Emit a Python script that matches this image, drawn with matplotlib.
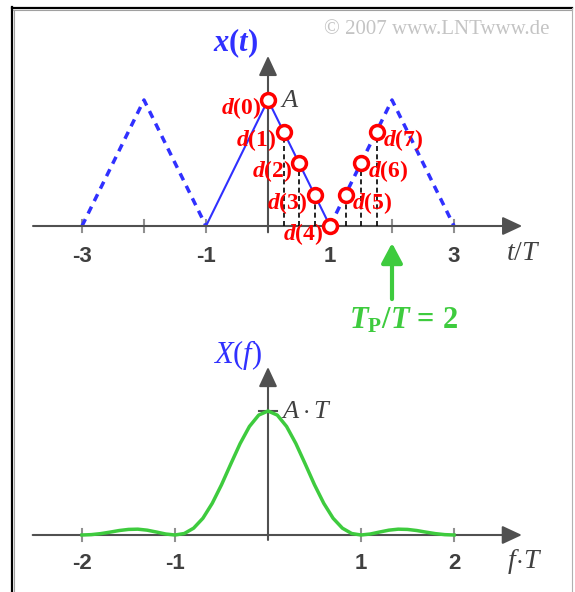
import matplotlib.pyplot as plt
from matplotlib.lines import Line2D

plt.rcParams.update({
    'mathtext.fontset': 'custom',
    'mathtext.rm': 'Liberation Serif',
    'mathtext.it': 'Liberation Serif:italic',
    'mathtext.bf': 'Liberation Serif:bold',
    'mathtext.bfit': 'Liberation Serif:bold:italic',
})

# upper graph: periodic triangle x(t) and its samples d(k)
t_vertices = [-3, -2, -1, 0, 1, 2, 3]
x_vertices = [0, 1, 0, 1, 0, 1, 0]
t_samples = [0, 0.25, 0.5, 0.75, 1.0, 1.25, 1.5, 1.75]
d_values = [1.0, 0.75, 0.5, 0.25, 0.0, 0.25, 0.5, 0.75]
t_ticks = [-3, -2, -1, 1, 2, 3]
t_ticklabels = ['-3', '', '-1', '1', '', '3']
period = 2

# lower graph: spectrum X(f)
f_points = [-2.0, -1.9, -1.8, -1.7, -1.6, -1.5, -1.4, -1.3, -1.2, -1.1,
            -1.0, -0.9, -0.8, -0.7, -0.6, -0.5, -0.4, -0.3, -0.2, -0.1,
            0.0, 0.1, 0.2, 0.3, 0.4, 0.5, 0.6, 0.7, 0.8, 0.9,
            1.0, 1.1, 1.2, 1.3, 1.4, 1.5, 1.6, 1.7, 1.8, 1.9, 2.0]
X_values = [0.0, 0.003, 0.011, 0.023, 0.036, 0.045, 0.047, 0.039, 0.024, 0.008,
            0.0, 0.012, 0.055, 0.135, 0.255, 0.405, 0.573, 0.737, 0.875, 0.967,
            1.0, 0.967, 0.875, 0.737, 0.573, 0.405, 0.255, 0.135, 0.055, 0.012,
            0.0, 0.008, 0.024, 0.039, 0.047, 0.045, 0.036, 0.023, 0.011, 0.003, 0.0]
f_ticks = [-2, -1, 1, 2]
f_ticklabels = ['-2', '-1', '1', '2']

AXIS = '#505050'
LABEL = '#404040'
BLUE = '#3030ff'
RED = '#ff0000'
GREEN = '#3ecb3e'

W, H = 575, 592
fig = plt.figure(figsize=(W / 100, H / 100), dpi=100)
fig.patch.set_facecolor('white')

# axes placed so that the data units match the original pixel layout
ax1 = fig.add_axes([0, (H - 330) / H, 1, 330 / H])
ax1.set_xlim(-268 / 62, (W - 268) / 62)
ax1.set_ylim((226 - 330) / 126, 226 / 126)
ax2 = fig.add_axes([0, 0, 1, (H - 330) / H])
ax2.set_xlim(-268 / 93, (W - 268) / 93)
ax2.set_ylim((535 - H) / 124, (535 - 330) / 124)
for ax in (ax1, ax2):
    ax.set_axis_off()
    ax.patch.set_alpha(0)

arrow = dict(arrowstyle='-|>,head_length=0.6,head_width=0.28', color=AXIS,
             lw=1.5, mutation_scale=20, shrinkA=0, shrinkB=0)

# ---- upper graph ----
ax1.annotate('', xy=(4.1, 0), xytext=(-3.79, 0), arrowprops=arrow)
ax1.annotate('', xy=(0, 1.35), xytext=(0, -0.05), arrowprops=arrow)
for t in t_ticks:
    ax1.plot([t, t], [-0.05, 0.05], color='#909090', lw=1.5, zorder=2)
for t, lab in zip(t_ticks, t_ticklabels):
    ax1.text(t, -0.24, lab, ha='center', va='center', fontsize=16,
             fontweight='bold', family='Liberation Sans', color=LABEL)

ax1.plot(t_vertices[:3], x_vertices[:3], color=BLUE, lw=2.5, dashes=(2.2, 1.8))
ax1.plot(t_vertices[4:], x_vertices[4:], color=BLUE, lw=2.5, dashes=(2.2, 1.8))
ax1.plot(t_vertices[2:5], x_vertices[2:5], color=BLUE, lw=1.5)

for t, d in zip(t_samples[1:], d_values[1:]):
    ax1.plot([t, t], [0, d], color='black', lw=1.2, dashes=(3, 2), zorder=3)
ax1.plot(t_samples, d_values, 'o', ms=10, mfc='white', mec=RED, mew=2.5,
         zorder=5)
for k, (t, d) in enumerate(zip(t_samples, d_values)):
    left = k <= 4
    ax1.annotate(r'$\mathbfit{d}\mathbf{(%d)}$' % k, (t, d),
                 xytext=(-5 if left else 5, -6), textcoords='offset points',
                 ha='right' if left else 'left', va='center', fontsize=17,
                 color=RED, zorder=6)

ax1.text(0.2, 1.0, r'$A$', ha='left', va='center', fontsize=19, color=LABEL)
ax1.text(-0.16, 1.45, r'$\mathbfit{x}\mathbf{(}\mathbfit{t}\mathbf{)}$',
         ha='right', va='center', fontsize=22, color=BLUE)
ax1.text(4.11, -0.21, r'$t/T$', ha='center', va='center', fontsize=20,
         color=LABEL)

ax1.annotate('', xy=(period, -0.135), xytext=(period, -0.58),
             arrowprops=dict(arrowstyle='-|>,head_length=0.6,head_width=0.32',
                             color=GREEN, lw=3, mutation_scale=20,
                             shrinkA=0, shrinkB=0))
ax1.text(period + 0.18, -0.75,
         r'$\mathbfit{T}_{\mathbf{P}}\mathbf{/}\mathbfit{T}\,\mathbf{=}\,\mathbf{%d}$' % period,
         ha='center', va='center', fontsize=22, color=GREEN)

fig.text(437 / W, 1 - 30 / H, '\u00a9 2007 www.LNTwww.de', ha='center',
         va='center', fontsize=15, family='Liberation Serif', color='#c4c4c4')

# ---- lower graph ----
ax2.annotate('', xy=(2.73, 0), xytext=(-2.53, 0), arrowprops=arrow)
ax2.annotate('', xy=(0, 1.355), xytext=(0, -0.04), arrowprops=arrow)
for f in f_ticks:
    ax2.plot([f, f], [-0.05, 0.05], color='#909090', lw=1.5, zorder=2)
ax2.plot([-0.1, 0.1], [1.0, 1.0], color=AXIS, lw=1.5, zorder=2)
for f, lab in zip(f_ticks, f_ticklabels):
    ax2.text(f, -0.23, lab, ha='center', va='center', fontsize=16,
             fontweight='bold', family='Liberation Sans', color=LABEL)

ax2.plot(f_points, X_values, color=GREEN, lw=2.5, solid_joinstyle='round',
         zorder=3)
ax2.text(0.14, 1.0, r'$A\cdot T$', ha='left', va='center', fontsize=19,
         color=LABEL)
ax2.text(-0.06, 1.45, r'$X(f)$', ha='right', va='center', fontsize=22,
         color=BLUE)
ax2.text(2.76, -0.21, r'$f\!\cdot\! T$', ha='center', va='center',
         fontsize=20, color=LABEL)

# picture frame
fig.add_artist(Line2D([11.5 / W, 572 / W], [1 - 8 / H, 1 - 8 / H],
                      color='black', lw=1.6))
fig.add_artist(Line2D([12 / W, 12 / W], [0, 1 - 7 / H], color='black', lw=1.6))
fig.add_artist(Line2D([13.5 / W, 572 / W], [1 - 10 / H, 1 - 10 / H],
                      color='#a0a0a0', lw=0.8))
fig.add_artist(Line2D([14 / W, 14 / W], [0, 1 - 10 / H], color='#a0a0a0', lw=0.8))
fig.add_artist(Line2D([572 / W, 572 / W], [0, 1 - 8 / H], color='#b0b0b0', lw=0.8))

fig.savefig('out.png', dpi=100)
